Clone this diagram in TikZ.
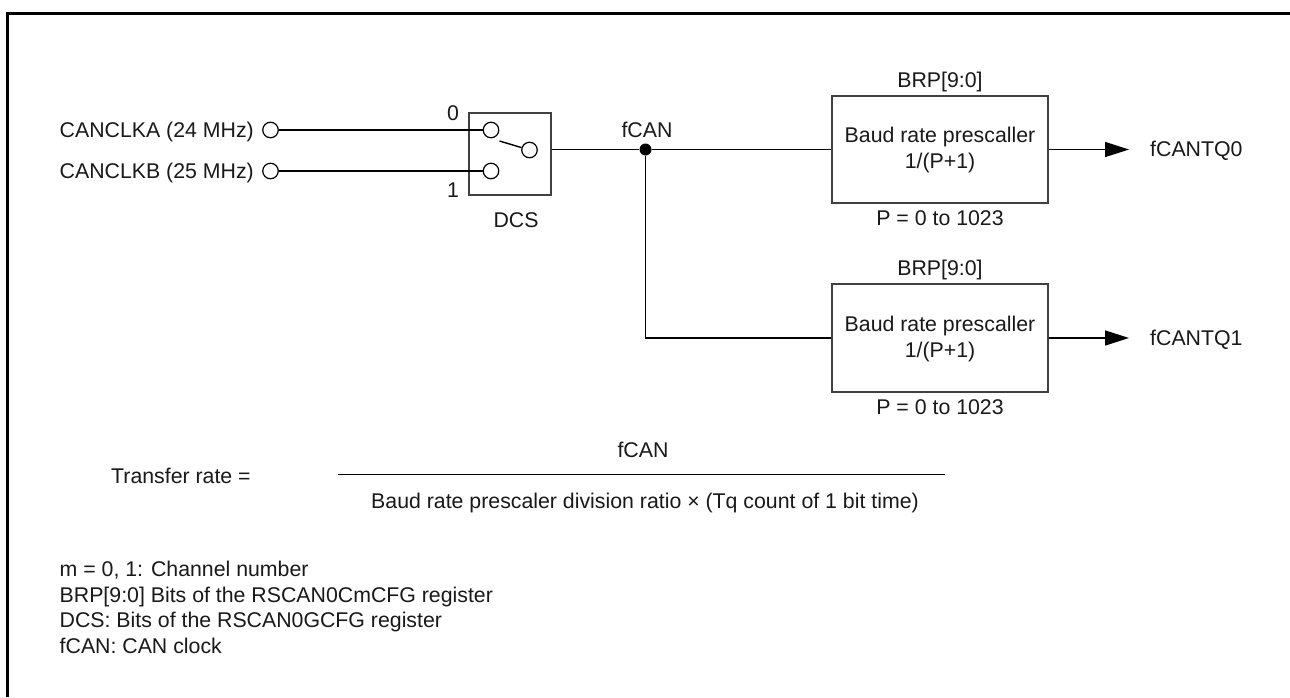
\documentclass[tikz,border=0pt]{standalone}
\usepackage{fontspec}
\setmainfont{Liberation Sans}
\usetikzlibrary{arrows.meta}
\tikzset{
  x=1pt,y=-1pt,
  lbl/.style={inner sep=0pt,text height=19pt,text depth=3.8pt,font=\fontsize{21.3}{25}\selectfont,text=black!90},
  wire/.style={line width=1.4pt,draw=black},
  boxn/.style={draw=black!75,line width=1.2pt,fill=white,inner sep=0pt,minimum width=#1},
  pin/.style={circle,draw=black,line width=1.2pt,fill=white,inner sep=0pt,minimum size=15.5pt},
  joint/.style={circle,fill=black,inner sep=0pt,minimum size=12pt},
  tip/.style={-{Triangle[length=24pt,width=15pt]}}
}
\begin{document}
\begin{tikzpicture}
\useasboundingbox (0,0) rectangle (1290,697);
\fill[white] (0,0) rectangle (1290,697);
\coordinate (fa) at (7.5,697);
\coordinate (fb) at (7.5,13.5);
\coordinate (fc) at (1290,13.5);
\draw[line width=3pt,line join=miter] (fa) -- (fb) -- (fc);
% switch box
\node[boxn=82pt,minimum height=82pt] (dcs) at (510,154) {};
% pins
\node[pin] (ina) at (270.5,130) {};
\node[pin] (inb) at (270.5,171) {};
\node[pin] (swa) at (491,130) {};
\node[pin] (swb) at (491,171) {};
\node[pin] (swo) at (529.5,150) {};
\coordinate (lev) at (499.5,141);
\draw[wire] (ina) -- (swa);
\draw[wire] (inb) -- (swb);
\draw[wire] (lev) -- (swo);
\node[joint] (j) at (645.5,149.5) {};
\draw[wire] (dcs.east |- j) -- (j);
% prescaler boxes
\node[boxn=216pt,minimum height=107pt] (p0) at (940,149.5) {};
\node[boxn=216pt,minimum height=108pt] (p1) at (940,338) {};
\draw[wire] (j) -- (p0.west |- j);
\draw[wire] (j) |- (p1.west);
\coordinate (o0) at (1129,149.5);
\coordinate (o1) at (1129,338);
\draw[wire,tip] (p0.east) -- (o0);
\draw[wire,tip] (p1.east) -- (o1);
% labels
\node[lbl,anchor=east] (la) at (254,130) {CANCLKA (24 MHz)};
\node[lbl,anchor=east] (lb) at (254,171) {CANCLKB (25 MHz)};
\node[lbl] (l0) at (453,113) {0};
\node[lbl] (l1) at (453,190) {1};
\node[lbl] (ldcs) at (516,220) {DCS};
\node[lbl] (lf) at (647,130) {fCAN};
\node[lbl] (b0) at (940,80) {BRP[9:0]};
\node[lbl] (t0a) at (940,135) {Baud rate prescaller};
\node[lbl] (t0b) at (940,161) {1/(P+1)};
\node[lbl] (r0) at (940,218) {P = 0 to 1023};
\node[lbl] (b1) at (940,268) {BRP[9:0]};
\node[lbl] (t1a) at (940,324) {Baud rate prescaller};
\node[lbl] (t1b) at (940,350) {1/(P+1)};
\node[lbl] (r1) at (940,407) {P = 0 to 1023};
\node[lbl,anchor=west] (q0) at (1150,149) {fCANTQ0};
\node[lbl,anchor=west] (q1) at (1150,338) {fCANTQ1};
% formula
\node[lbl,anchor=west] (tr) at (111,475.5) {Transfer rate =};
\node[lbl] (num) at (643,450) {fCAN};
\node[lbl] (den) at (645,500.5) {Baud rate prescaler division ratio × (Tq count of 1 bit time)};
\coordinate (ra) at (338,474.5);
\coordinate (rb) at (945,474.5);
\draw[line width=1.2pt] (ra) -- (rb);
% notes
\node[lbl,anchor=west] (n1) at (59.5,569) {m = 0, 1: Channel number};
\node[lbl,anchor=west] (n2) at (59.5,594.5) {BRP[9:0] Bits of the RSCAN0CmCFG register};
\node[lbl,anchor=west] (n3) at (59.5,620) {DCS: Bits of the RSCAN0GCFG register};
\node[lbl,anchor=west] (n4) at (59.5,645.5) {fCAN: CAN clock};
\end{tikzpicture}
\end{document}
